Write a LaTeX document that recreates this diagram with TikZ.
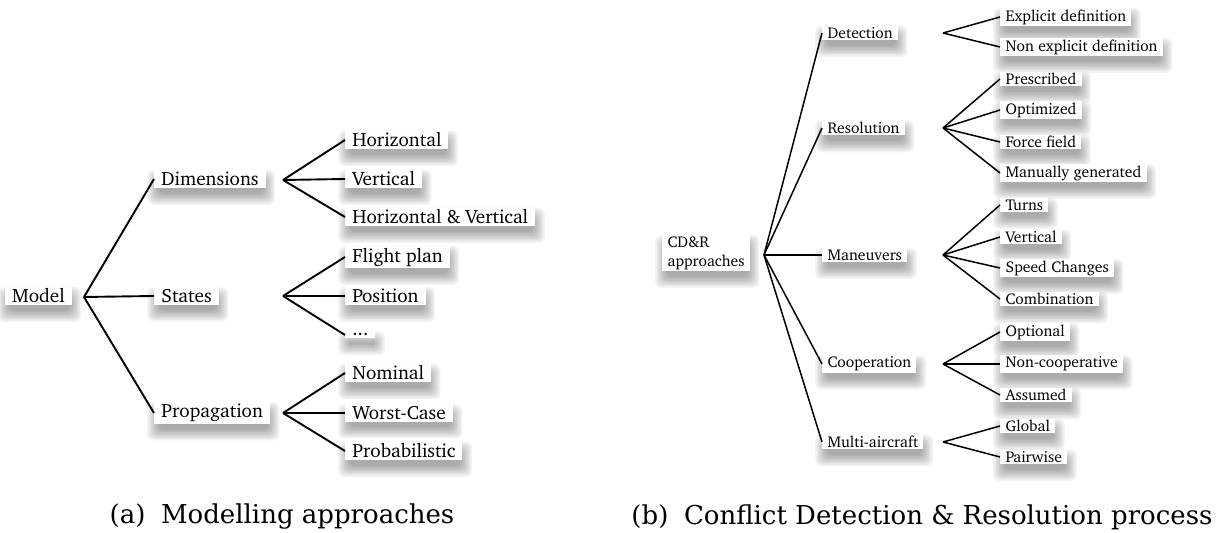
\documentclass[tikz,border=0pt]{standalone}
\usepackage[T1]{fontenc}
\usepackage{fontspec}
\usetikzlibrary{calc,backgrounds}
\newfontfamily\captionfamily{DejaVu Serif}
\newcommand\charterbig{\fontencoding{T1}\fontfamily{bch}\fontsize{9.6}{11.5}\selectfont}
\newcommand\chartersmall{\fontencoding{T1}\fontfamily{bch}\fontsize{7.8}{9.5}\selectfont}
% soft drop shadow under a label: stacked, faint rounded boxes
\newcommand\labelshadow[1]{%
  \foreach \k in {0,...,8}{%
    \pgfmathsetmacro\ee{-1.6+0.7*\k}%
    \pgfmathsetmacro\xa{0.6-\ee}\pgfmathsetmacro\xb{0.6+\ee}%
    \pgfmathsetmacro\ya{-4.2-\ee}\pgfmathsetmacro\yb{-4.2+\ee}%
    \fill[black, opacity=0.042, rounded corners=3pt]
      ($(#1.south west)+(\xa pt,\ya pt)$) rectangle ($(#1.north east)+(\xb pt,\yb pt)$);
  }}
\tikzset{
  bigleaf/.style={fill=white, font=\charterbig, inner xsep=3.5pt, inner ysep=1pt, anchor=west},
  smallleaf/.style={fill=white, font=\chartersmall, inner xsep=2.6pt, inner ysep=0.8pt, anchor=west},
  bigedge/.style={line width=0.95pt},
  smalledge/.style={line width=0.75pt},
  captiontext/.style={font=\captionfamily\fontsize{13}{15}\selectfont, inner sep=0pt},
}
\begin{document}
\begin{tikzpicture}[x=0.5pt, y=-0.5pt]
\useasboundingbox (0,0) rectangle (1222,533);

% ---------------- (a) modelling approaches ----------------
\node[bigleaf, anchor=center] (model) at (38.5,296) {Model};
\coordinate (jmodel) at (84,297);

\node[bigleaf] (dim) at (154,179) {Dimensions};
\node[bigleaf] (sta) at (154,296) {States};
\node[bigleaf] (pro) at (154,413) {Propagation};

\coordinate (jdim) at (283,180);
\coordinate (jsta) at (283,296);
\coordinate (jpro) at (283,413);

\node[bigleaf] (hor) at (345,140) {Horizontal};
\node[bigleaf] (ver) at (345,179) {Vertical};
\node[bigleaf] (hv)  at (345,217) {Horizontal \& Vertical};
\node[bigleaf] (fp)  at (345,257) {Flight plan};
\node[bigleaf] (pos) at (345,296) {Position};
\node[bigleaf] (etc) at (345,335) {...};
\node[bigleaf] (nom) at (345,373) {Nominal};
\node[bigleaf] (wc)  at (345,413) {Worst-Case};
\node[bigleaf] (prb) at (345,451) {Probabilistic};

\begin{scope}[bigedge]
  \draw (jmodel) -- (dim.west);
  \draw (jmodel) -- (sta.west);
  \draw (jmodel) -- (pro.west);
  \draw (jdim) -- (hor.west);
  \draw (jdim) -- (ver.west);
  \draw (jdim) -- (hv.west);
  \draw (jsta) -- (fp.west);
  \draw (jsta) -- (pos.west);
  \draw (jsta) -- (etc.west);
  \draw (jpro) -- (nom.west);
  \draw (jpro) -- (wc.west);
  \draw (jpro) -- (prb.west);
\end{scope}

\node[captiontext] (capa) at (282,517) {(a)\hspace{0.6em}Modelling approaches};

% ---------------- (b) CD&R process ----------------
\node[smallleaf, align=left] (cdr) at (662,253) {CD\&R\\approaches};
\coordinate (jcdr) at (764,255);

\node[smallleaf] (det) at (822,33)  {Detection};
\node[smallleaf] (res) at (822,128) {Resolution};
\node[smallleaf] (man) at (822,255) {Maneuvers};
\node[smallleaf] (coo) at (822,364) {Cooperation};
\node[smallleaf] (mul) at (822,442) {Multi-aircraft};

\coordinate (jdet) at (943,33);
\coordinate (jres) at (943,128);
\coordinate (jman) at (943,255);
\coordinate (jcoo) at (943,364);
\coordinate (jmul) at (943,442);

\node[smallleaf] (expl) at (1000,17)  {Explicit definition};
\node[smallleaf] (nexp) at (1000,47)  {Non explicit definition};
\node[smallleaf] (pres) at (1000,79)  {Prescribed};
\node[smallleaf] (opti) at (1000,110) {Optimized};
\node[smallleaf] (forc) at (1000,142) {Force field};
\node[smallleaf] (manu) at (1000,173) {Manually generated};
\node[smallleaf] (turn) at (1000,205) {Turns};
\node[smallleaf] (vert) at (1000,237) {Vertical};
\node[smallleaf] (spee) at (1000,268) {Speed Changes};
\node[smallleaf] (comb) at (1000,299) {Combination};
\node[smallleaf] (opt)  at (1000,332) {Optional};
\node[smallleaf] (ncoo) at (1000,364) {Non-cooperative};
\node[smallleaf] (assu) at (1000,395) {Assumed};
\node[smallleaf] (glob) at (1000,426) {Global};
\node[smallleaf] (pair) at (1000,457) {Pairwise};

\begin{scope}[smalledge]
  \draw (jcdr) -- (det.west);
  \draw (jcdr) -- (res.west);
  \draw (jcdr) -- (man.west);
  \draw (jcdr) -- (coo.west);
  \draw (jcdr) -- (mul.west);
  \draw (jdet) -- (expl.west);
  \draw (jdet) -- (nexp.west);
  \draw (jres) -- (pres.west);
  \draw (jres) -- (opti.west);
  \draw (jres) -- (forc.west);
  \draw (jres) -- (manu.west);
  \draw (jman) -- (turn.west);
  \draw (jman) -- (vert.west);
  \draw (jman) -- (spee.west);
  \draw (jman) -- (comb.west);
  \draw (jcoo) -- (opt.west);
  \draw (jcoo) -- (ncoo.west);
  \draw (jcoo) -- (assu.west);
  \draw (jmul) -- (glob.west);
  \draw (jmul) -- (pair.west);
\end{scope}

\node[captiontext] (capb) at (922,517) {(b)\hspace{0.6em}Conflict Detection \& Resolution process};

% shadows behind every label
\begin{pgfonlayer}{background}
  \foreach \n in {model,dim,sta,pro,hor,ver,hv,fp,pos,etc,nom,wc,prb,
                  cdr,det,res,man,coo,mul,expl,nexp,pres,opti,forc,manu,
                  turn,vert,spee,comb,opt,ncoo,assu,glob,pair}{\labelshadow{\n}}
\end{pgfonlayer}
\end{tikzpicture}
\end{document}
